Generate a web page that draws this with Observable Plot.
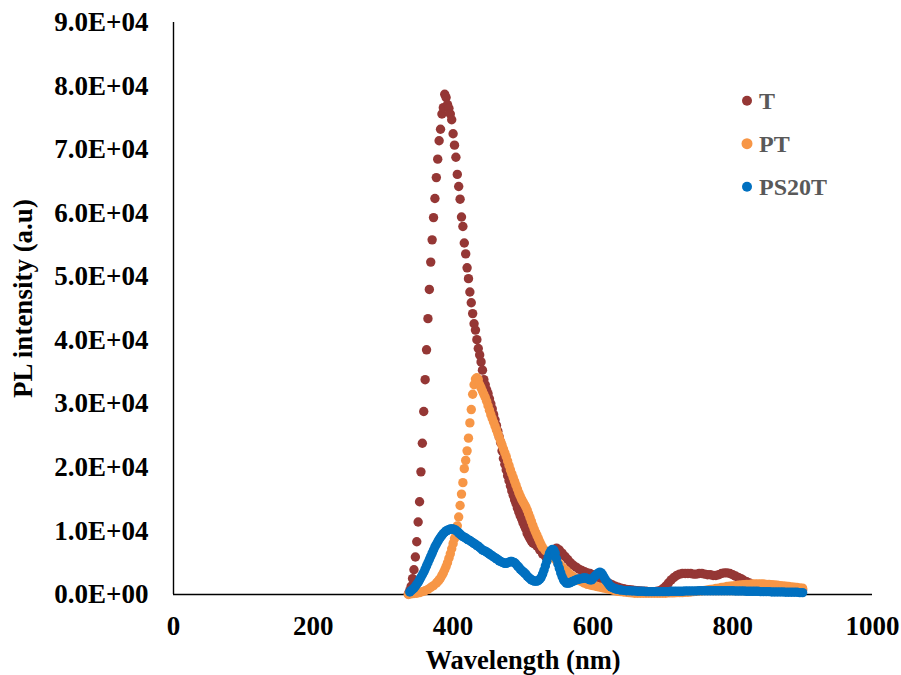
<!DOCTYPE html>
<html><head><meta charset="utf-8">
<script src="https://cdn.jsdelivr.net/npm/d3@7"></script>
<script src="https://cdn.jsdelivr.net/npm/@observablehq/plot@0.6"></script>
<style>
body{margin:0;background:#fff;}
#wrap{position:relative;width:901px;height:675px;}
</style></head><body><div id="wrap"></div>
<script>
const seriesNames = ["T", "PT", "PS20T"];
const seriesColors = ["#953735", "#F79646", "#0070C0"];
const xTicks = [0, 200, 400, 600, 800, 1000];
const yTicks = [0, 10000, 20000, 30000, 40000, 50000, 60000, 70000, 80000, 90000];
const xLabel = "Wavelength (nm)";
const yLabel = "PL intensity (a.u)";

// [wavelength nm, PL intensity]
const T = [[336,100],[338,600],[340,1300],[342,2500],[344,3900],[346,5900],[348,8300],[350,11400],[352,14600],[354,19300],[356,23800],[358,28800],[360,33800],[362,38500],[364,43400],[366,48000],[368,52300],[370,55800],[372,59300],[374,62300],[376,65600],[378,68500],[380,71400],[382,73200],[384,75600],[386,76600],[388,78700],[390,78200],[392,77100],[394,76500],[396,75600],[398,74700],[400,72500],[402,70700],[404,68800],[406,66100],[408,64200],[410,62200],[412,59400],[414,57900],[416,55300],[418,53600],[420,51400],[422,49700],[424,47600],[426,45900],[428,44200],[430,42600],[432,41600],[434,40100],[436,38700],[438,37700],[440,36600],[442,35300],[444,33800],[446,33000],[448,32200],[450,31600],[452,30800],[454,30000],[456,29200],[458,28300],[460,27500],[462,26600],[464,25700],[466,24800],[468,23900],[470,22600],[472,21400],[474,20500],[476,19600],[478,18700],[480,17900],[482,17100],[484,16300],[486,15600],[488,14900],[490,14300],[492,13600],[494,13000],[496,12400],[498,11900],[500,11300],[502,10800],[504,10300],[506,9600],[508,9200],[510,8800],[512,8400],[514,8100],[516,8000],[520,7600],[524,7000],[528,6400],[532,6000],[536,6000],[540,6400],[544,7000],[548,7300],[552,7000],[556,6500],[560,6000],[564,5500],[568,5000],[572,4600],[576,4300],[580,4000],[584,3800],[588,3600],[592,3400],[596,3300],[600,3100],[604,2900],[608,2700],[612,2500],[616,2300],[620,2000],[624,1700],[628,1500],[632,1300],[636,1150],[640,1000],[644,900],[648,800],[652,750],[656,700],[660,650],[664,600],[668,550],[672,500],[676,500],[680,450],[684,450],[688,450],[692,500],[696,600],[700,900],[704,1300],[708,1800],[712,2300],[716,2700],[720,3000],[724,3200],[728,3300],[732,3300],[736,3300],[740,3300],[744,3200],[748,3200],[752,3300],[756,3300],[760,3200],[764,3100],[768,3100],[772,3000],[776,3000],[780,3100],[784,3300],[788,3400],[792,3400],[796,3300],[800,3100],[804,2900],[808,2700],[812,2500],[816,2200],[820,2000],[824,1800],[828,1600],[832,1500],[836,1400],[840,1300],[844,1300],[848,1200],[852,1200],[856,1100],[860,1100],[864,1000],[868,1000],[872,900],[876,900],[880,900],[884,800],[888,800],[892,800],[896,700],[900,700]];

const PT = [[336,0],[340,100],[344,150],[348,200],[352,300],[356,450],[360,600],[364,800],[368,1100],[372,1400],[376,1800],[378,2000],[380,2300],[382,2600],[384,3000],[386,3400],[388,3900],[390,4400],[392,5000],[394,5700],[396,6400],[398,7200],[400,8000],[402,8800],[404,9600],[406,10800],[408,12200],[410,14000],[412,15800],[414,17600],[416,19800],[418,21100],[420,22600],[422,24600],[424,27000],[426,29100],[428,31500],[430,33000],[432,33900],[434,34100],[436,33800],[438,33000],[440,32500],[442,32000],[444,31500],[446,31000],[448,30400],[450,29700],[452,29000],[454,28300],[456,27700],[458,27100],[460,26500],[462,25900],[464,25300],[466,24700],[468,24100],[470,23500],[472,22900],[474,22300],[476,21700],[478,21000],[480,20300],[482,19600],[484,19000],[486,18400],[488,17800],[490,17200],[492,16600],[494,16000],[496,15500],[498,15000],[500,14600],[502,14200],[504,13800],[506,13300],[508,12700],[510,12100],[512,11500],[514,10900],[516,10300],[518,9800],[520,9300],[522,8800],[524,8300],[526,7800],[528,7400],[532,6900],[536,6500],[540,6100],[544,5700],[548,5300],[552,4800],[556,4300],[560,3900],[564,3500],[568,3100],[572,2800],[576,2500],[580,2200],[584,2000],[588,1800],[592,1600],[596,1500],[600,1400],[604,1300],[608,1200],[612,1100],[616,1000],[620,900],[624,800],[628,700],[632,600],[636,500],[640,450],[644,400],[648,350],[652,300],[656,250],[660,200],[664,200],[668,200],[672,200],[676,200],[680,200],[684,200],[688,200],[692,200],[696,200],[700,200],[704,200],[708,250],[712,250],[716,250],[720,300],[724,300],[728,300],[732,350],[736,350],[740,400],[744,450],[748,500],[752,550],[756,600],[760,650],[764,700],[768,800],[772,850],[776,950],[780,1000],[784,1100],[788,1150],[792,1250],[796,1300],[800,1350],[804,1400],[808,1450],[812,1500],[816,1550],[820,1600],[824,1600],[828,1650],[832,1650],[836,1650],[840,1650],[844,1650],[848,1600],[852,1600],[856,1550],[860,1500],[864,1450],[868,1400],[872,1350],[876,1300],[880,1250],[884,1200],[888,1150],[892,1100],[896,1050],[900,1000]];

const PS20T = [[338,400],[340,600],[342,800],[344,1000],[346,1300],[348,1600],[350,1900],[352,2300],[354,2700],[356,3100],[358,3500],[360,4000],[362,4500],[364,5000],[366,5500],[368,6000],[370,6500],[372,7000],[374,7500],[376,7900],[378,8300],[380,8700],[382,9000],[384,9300],[386,9600],[388,9800],[390,10000],[392,10100],[394,10200],[396,10300],[398,10300],[400,10300],[402,10200],[404,10100],[406,9900],[408,9700],[410,9500],[412,9300],[414,9100],[416,9000],[418,8900],[420,8700],[422,8600],[424,8500],[426,8300],[428,8200],[430,8000],[432,7900],[434,7700],[436,7600],[438,7400],[440,7200],[442,7000],[444,6900],[446,6800],[448,6700],[450,6500],[452,6400],[454,6200],[456,6100],[458,5900],[460,5800],[462,5600],[464,5500],[466,5300],[468,5200],[470,5100],[472,5000],[474,4900],[476,4900],[478,5000],[480,5100],[482,5200],[484,5200],[486,5100],[488,5000],[490,4800],[492,4500],[494,4300],[496,4000],[498,3800],[500,3600],[502,3400],[504,3200],[506,2900],[508,2700],[510,2500],[512,2300],[514,2200],[516,2100],[518,2100],[520,2100],[522,2200],[524,2400],[526,2700],[528,3200],[530,3800],[532,4500],[534,5200],[536,5900],[538,6500],[540,6900],[542,7100],[544,7000],[546,6500],[548,5600],[550,4800],[552,4100],[554,3400],[556,2800],[558,2300],[560,2000],[562,1800],[564,1800],[566,1800],[568,1900],[570,2000],[572,2100],[574,2200],[576,2300],[578,2400],[580,2400],[582,2500],[584,2500],[586,2600],[588,2600],[590,2600],[592,2500],[594,2400],[596,2300],[598,2300],[600,2500],[602,2800],[604,3000],[606,3200],[608,3400],[610,3500],[612,3400],[614,3100],[616,2700],[618,2300],[620,2000],[622,1700],[624,1400],[626,1200],[628,1100],[630,1000],[632,900],[634,850],[636,800],[638,750],[640,700],[644,650],[648,600],[652,600],[656,550],[660,550],[664,500],[668,500],[672,500],[676,450],[680,450],[684,450],[688,450],[692,450],[696,450],[700,450],[704,450],[708,450],[712,500],[716,500],[720,500],[724,500],[728,500],[732,550],[736,550],[740,550],[744,550],[748,550],[752,600],[756,600],[760,600],[764,600],[768,600],[772,600],[776,600],[780,600],[784,600],[788,600],[792,600],[796,600],[800,600],[804,550],[808,550],[812,550],[816,550],[820,500],[824,500],[828,500],[832,500],[836,500],[840,450],[844,450],[848,450],[852,450],[856,400],[860,400],[864,400],[868,400],[872,400],[876,350],[880,350],[884,350],[888,350],[892,350],[896,300],[900,300]];

const rows = [T, PT, PS20T].flatMap((s, i) => s.map(([nm, v]) => ({series: seriesNames[i], nm, v})));
const fmt = d => d === 0 ? "0.0E+00" : (d / 10000).toFixed(1) + "E+04";
const font = "'Liberation Serif', 'Times New Roman', serif";

const plot = Plot.plot({
  width: 901, height: 675,
  marginLeft: 173, marginRight: 29, marginTop: 22, marginBottom: 81,
  style: {fontFamily: font, fontWeight: "bold", background: "#fff", color: "#000"},
  x: {domain: [0, 1000]},
  y: {domain: [0, 90000]},
  color: {domain: seriesNames, range: seriesColors},
  marks: [
    Plot.axisX(xTicks, {tickSize: 0, tickPadding: 21, fontSize: 27, label: null, tickFormat: d => String(d)}),
    Plot.axisY(yTicks, {tickSize: 0, tickPadding: 25, fontSize: 27, label: null, tickFormat: fmt}),
    Plot.ruleX([0], {stroke: "#000", strokeWidth: 1.4}),
    Plot.ruleY([0], {stroke: "#000", strokeWidth: 1.4}),
    Plot.dot(rows, {x: "nm", y: "v", fill: "series", r: 4.7}),
    Plot.text([xLabel], {text: d => d, frameAnchor: "bottom", textAnchor: "middle", dy: 74, fontSize: 26.5, fontWeight: "bold", fill: "#000"}),
    Plot.text([yLabel], {text: d => d, frameAnchor: "left", textAnchor: "middle", rotate: -90, dx: -150, dy: -10, fontSize: 27, fontWeight: "bold", fill: "#000"})
  ]
});
document.getElementById("wrap").appendChild(plot);

// legend inside the plot area (top right)
const svg = d3.select(plot);
const lg = svg.append("g").attr("font-family", font).attr("font-weight", "bold").attr("font-size", 24).attr("fill", "#595959").attr("text-anchor", "start");
seriesNames.forEach((name, i) => {
  const cy = 100.7 + i * 43;
  lg.append("circle").attr("cx", 747).attr("cy", cy).attr("r", i === 1 ? 5.5 : 5).attr("fill", seriesColors[i]);
  lg.append("text").attr("x", 759).attr("y", cy + 8).text(name);
});
</script></body></html>
